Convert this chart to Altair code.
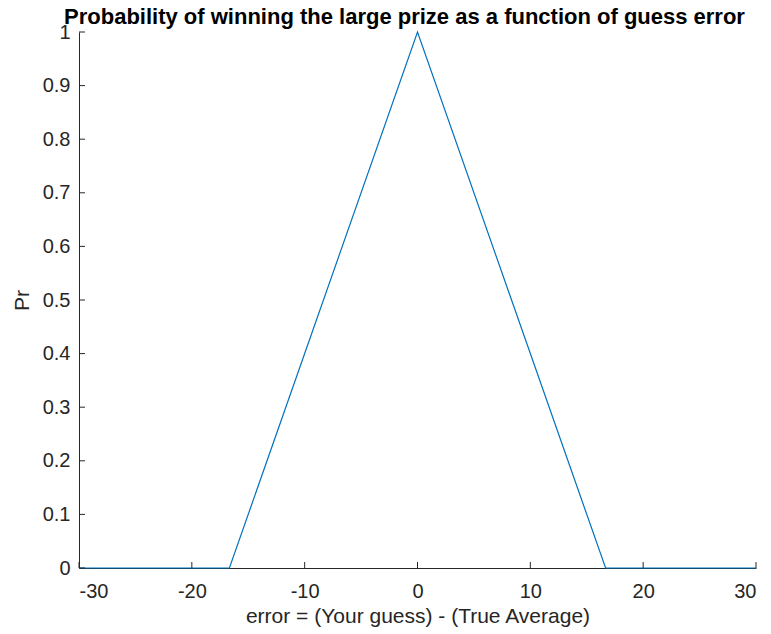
import altair as alt
import pandas as pd

# guess error vs probability (piecewise linear)
err = [-30, -16.67, 0, 16.67, 30]
prob = [0, 0, 1, 0, 0]

x_ticks = [-30, -20, -10, 0, 10, 20, 30]
y_ticks = [0, 0.1, 0.2, 0.3, 0.4, 0.5, 0.6, 0.7, 0.8, 0.9, 1]

df = pd.DataFrame({"err": err, "pr": prob})
df_xt = pd.DataFrame({"t": x_ticks})
df_yt = pd.DataFrame({"t": y_ticks})

W, H = 677, 536
axis_col = "#262626"

x_scale = alt.Scale(domain=[-30, 30], nice=False, zero=False)
y_scale = alt.Scale(domain=[0, 1], nice=False)

line = alt.Chart(df).mark_line(color="#0072BD", strokeWidth=1.2).encode(
    x=alt.X("err:Q", scale=x_scale, title="error = (Your guess) - (True Average)",
            axis=alt.Axis(values=x_ticks, tickSize=0, labelPadding=13,
                          labelExpr="datum.value + ''",
                          grid=False, titlePadding=4)),
    y=alt.Y("pr:Q", scale=y_scale, title="Pr",
            axis=alt.Axis(values=y_ticks, tickSize=0, labelPadding=9,
                          labelExpr="datum.value + ''",
                          grid=False, titlePadding=10))
)

# inward ticks like matlab
xt = alt.Chart(df_xt).mark_rule(color=axis_col, strokeWidth=1).encode(
    x=alt.X("t:Q", scale=x_scale),
    y=alt.value(H),
    y2=alt.value(H - 6)
)
yt = alt.Chart(df_yt).mark_rule(color=axis_col, strokeWidth=1).encode(
    y=alt.Y("t:Q", scale=y_scale),
    x=alt.value(0),
    x2=alt.value(6)
)

chart = alt.layer(line, xt, yt).properties(
    width=W,
    height=H,
    autosize=alt.AutoSizeParams(type="none"),
    padding={"left": 71, "top": 24, "right": 7, "bottom": 62},
    title=alt.TitleParams(
        "Probability of winning the large prize as a function of guess error",
        fontSize=22, fontWeight="bold", font="Liberation Sans", color="black",
        anchor="middle", offset=0, dx=-13, dy=7
    )
).configure_view(
    stroke=None
).configure_axis(
    domainColor=axis_col,
    domainWidth=1,
    labelColor=axis_col,
    titleColor=axis_col,
    labelFont="Liberation Sans",
    titleFont="Liberation Sans",
    labelFontSize=20,
    titleFontSize=21,
    titleFontWeight="normal"
)

chart.save("out.html", embed_options={"renderer": "svg", "actions": False})
